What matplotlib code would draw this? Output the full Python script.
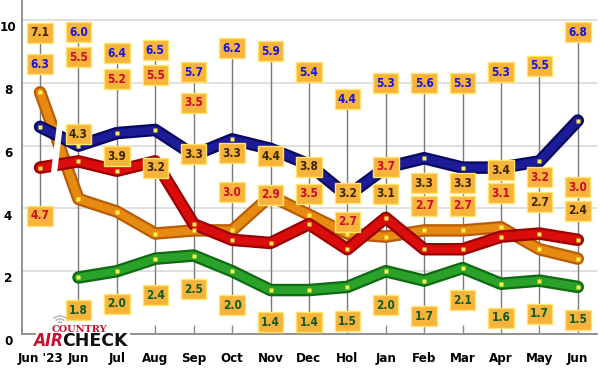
import matplotlib
matplotlib.use("Agg")
import matplotlib.pyplot as plt
import matplotlib.transforms as mtrans
from matplotlib.patches import Polygon, Rectangle, Arc
import numpy as np

# ---------------- data ----------------
categories = ["Jun '23", "Jun", "Jul", "Aug", "Sep", "Oct", "Nov", "Dec",
              "Hol", "Jan", "Feb", "Mar", "Apr", "May", "Jun"]
blue   = [6.3, 6.0, 6.4, 6.5, 5.7, 6.2, 5.9, 5.4, 4.4, 5.3, 5.6, 5.3, 5.3, 5.5, 6.8]
orange = [7.1, 4.3, 3.9, 3.2, 3.3, 3.3, 4.4, 3.8, 3.2, 3.1, 3.3, 3.3, 3.4, 2.7, 2.4]
red    = [4.7, 5.5, 5.2, 5.5, 3.5, 3.0, 2.9, 3.5, 2.7, 3.7, 2.7, 2.7, 3.1, 3.2, 3.0]
green  = [None, 1.8, 2.0, 2.4, 2.5, 2.0, 1.4, 1.4, 1.5, 2.0, 1.7, 2.1, 1.6, 1.7, 1.5]
# where the first (Jun '23) markers are drawn in the picture
first_drawn = {"blue": 6.6, "orange": 7.7, "red": 5.3}
y_ticks = [0, 2, 4, 6, 8, 10]

# label box positions (in data units)
lab_blue   = [8.60, 9.62, 8.95, 9.04, 8.34, 9.11, 9.01, 8.34, 7.48, 7.99, 7.99, 7.99, 8.34, 8.54, 9.62]
lab_orange = [9.59, 6.37, 5.67, 5.29, 5.73, 5.76, 5.67, 5.32, 4.49, 4.46, 4.81, 4.81, 5.22, 4.20, 3.92]
lab_red    = [3.76, 8.82, 8.12, 8.25, 7.36, 4.52, 4.43, 4.46, 3.57, 5.32, 4.08, 4.08, 4.49, 5.00, 4.68]
lab_green  = [None, 0.76, 0.96, 1.24, 1.43, 0.92, 0.38, 0.38, 0.41, 0.92, 0.57, 1.08, 0.51, 0.64, 0.45]

# ---------------- styling ----------------
plt.rcParams['font.family'] = ['DejaVu Sans']
plt.rcParams['font.stretch'] = 'condensed'

W, H = 600, 368
fig = plt.figure(figsize=(6, 3.68), dpi=100)
ax = fig.add_axes([22 / W, (H - 334) / H, (597 - 22) / W, 334 / H])
x = np.arange(len(categories))
ax.set_xlim(-0.47, 14.5)
ax.set_ylim(0, 10.64)

for s in ['top', 'right']:
    ax.spines[s].set_visible(False)
for s in ['left', 'bottom']:
    ax.spines[s].set_color('#8a8a8a')
    ax.spines[s].set_linewidth(1.3)

ax.set_yticks(y_ticks)
ax.yaxis.grid(True, color='#dcdcdc', lw=1.3)
ax.set_axisbelow(True)
ax.tick_params(axis='y', length=0, pad=0)
ax.set_yticklabels([str(v) for v in y_ticks], fontsize=9.5, fontweight='bold')
off = mtrans.ScaledTranslation(-10 / 72, -4.5 / 72, fig.dpi_scale_trans)
for lab in ax.get_yticklabels():
    lab.set_transform(lab.get_transform() + off)
    lab.set_horizontalalignment('center')

ax.set_xticks(x)
ax.set_xticklabels(categories, fontsize=9.5, fontweight='bold')
ax.tick_params(axis='x', direction='in', length=6.5, width=1, color='#8a8a8a', pad=13)

# vertical connector lines
series_labels = [lab_blue, lab_orange, lab_red, lab_green]
for i in range(len(categories)):
    ys = [s[i] for s in series_labels if s[i] is not None]
    ax.plot([x[i], x[i]], [min(ys), max(ys)], color='#7a7a7a', lw=1.0, zorder=1)

# lines
specs = [
    ("green", green, '#0f6a12', '#2aa22a'),
    ("orange", orange, '#b85d05', '#e68a12'),
    ("red", red, '#9a0000', '#da0c0c'),
    ("blue", blue, '#080860', '#1c1c98'),
]
for name, vals, dark, main in specs:
    xs = [x[i] for i in range(len(vals)) if vals[i] is not None and i > 0]
    ys = [vals[i] for i in range(len(vals)) if vals[i] is not None and i > 0]
    if name in first_drawn:
        xs = [x[0]] + xs
        ys = [first_drawn[name]] + ys
    ax.plot(xs, ys, color=dark, lw=9, solid_capstyle='round',
            solid_joinstyle='round', zorder=3)
    ax.plot(xs, ys, color=main, lw=5.8, solid_capstyle='round',
            solid_joinstyle='round', zorder=3)
    ax.plot(xs, ys, ls='none', marker='s', ms=3.2, mfc='#fff14a', mec='none', zorder=4)

# white break between Jun '23 and Jun
brk = Polygon([(0.50, 7.3), (0.66, 7.3), (0.42, 4.9), (0.26, 4.9)],
              closed=True, fc='white', ec='none', zorder=3.5)
ax.add_patch(brk)

# label boxes
text_colors = ['#1414e6', '#3a2600', '#cc0a2a', '#0e5a26']
value_sets = [blue, orange, red, green]
for vals, labs, tc in zip(value_sets, series_labels, text_colors):
    for i in range(len(vals)):
        if vals[i] is None:
            continue
        ax.text(x[i], labs[i], f"{vals[i]:.1f}", ha='center', va='center',
                fontsize=8.5, fontweight='bold', color=tc, zorder=6,
                bbox=dict(boxstyle='square,pad=0.28', fc='#f8b43a',
                          ec='#ffe56a', lw=1.0))

# logo
fig.add_artist(Rectangle((36 / W, (H - 348) / H), 94 / W, 26 / H,
                         transform=fig.transFigure, fc='white', ec='none', zorder=10))
fig.text(79 / W, 1 - 329 / H, "COUNTRY", ha='center', va='center', fontsize=7,
         fontweight='bold', color='#c8102e', family=['DejaVu Serif'],
         fontstretch='normal', zorder=11)
fig.text(63 / W, 1 - 340.5 / H, "AIR", ha='right', va='center', fontsize=12.5,
         fontweight='bold', style='italic', color='#c8102e', zorder=11)
fig.text(62 / W, 1 - 340.5 / H, "CHECK", ha='left', va='center', fontsize=12.5,
         fontweight='bold', color='#111111', fontstretch='normal', zorder=11)
for r in (3, 6, 9):
    fig.add_artist(Arc((60, H - 325), 2 * r, 2 * r, theta1=45, theta2=135,
                       transform=None, color='#b0b0b0', lw=1.0, zorder=11))

fig.savefig("out.png", dpi=100)
